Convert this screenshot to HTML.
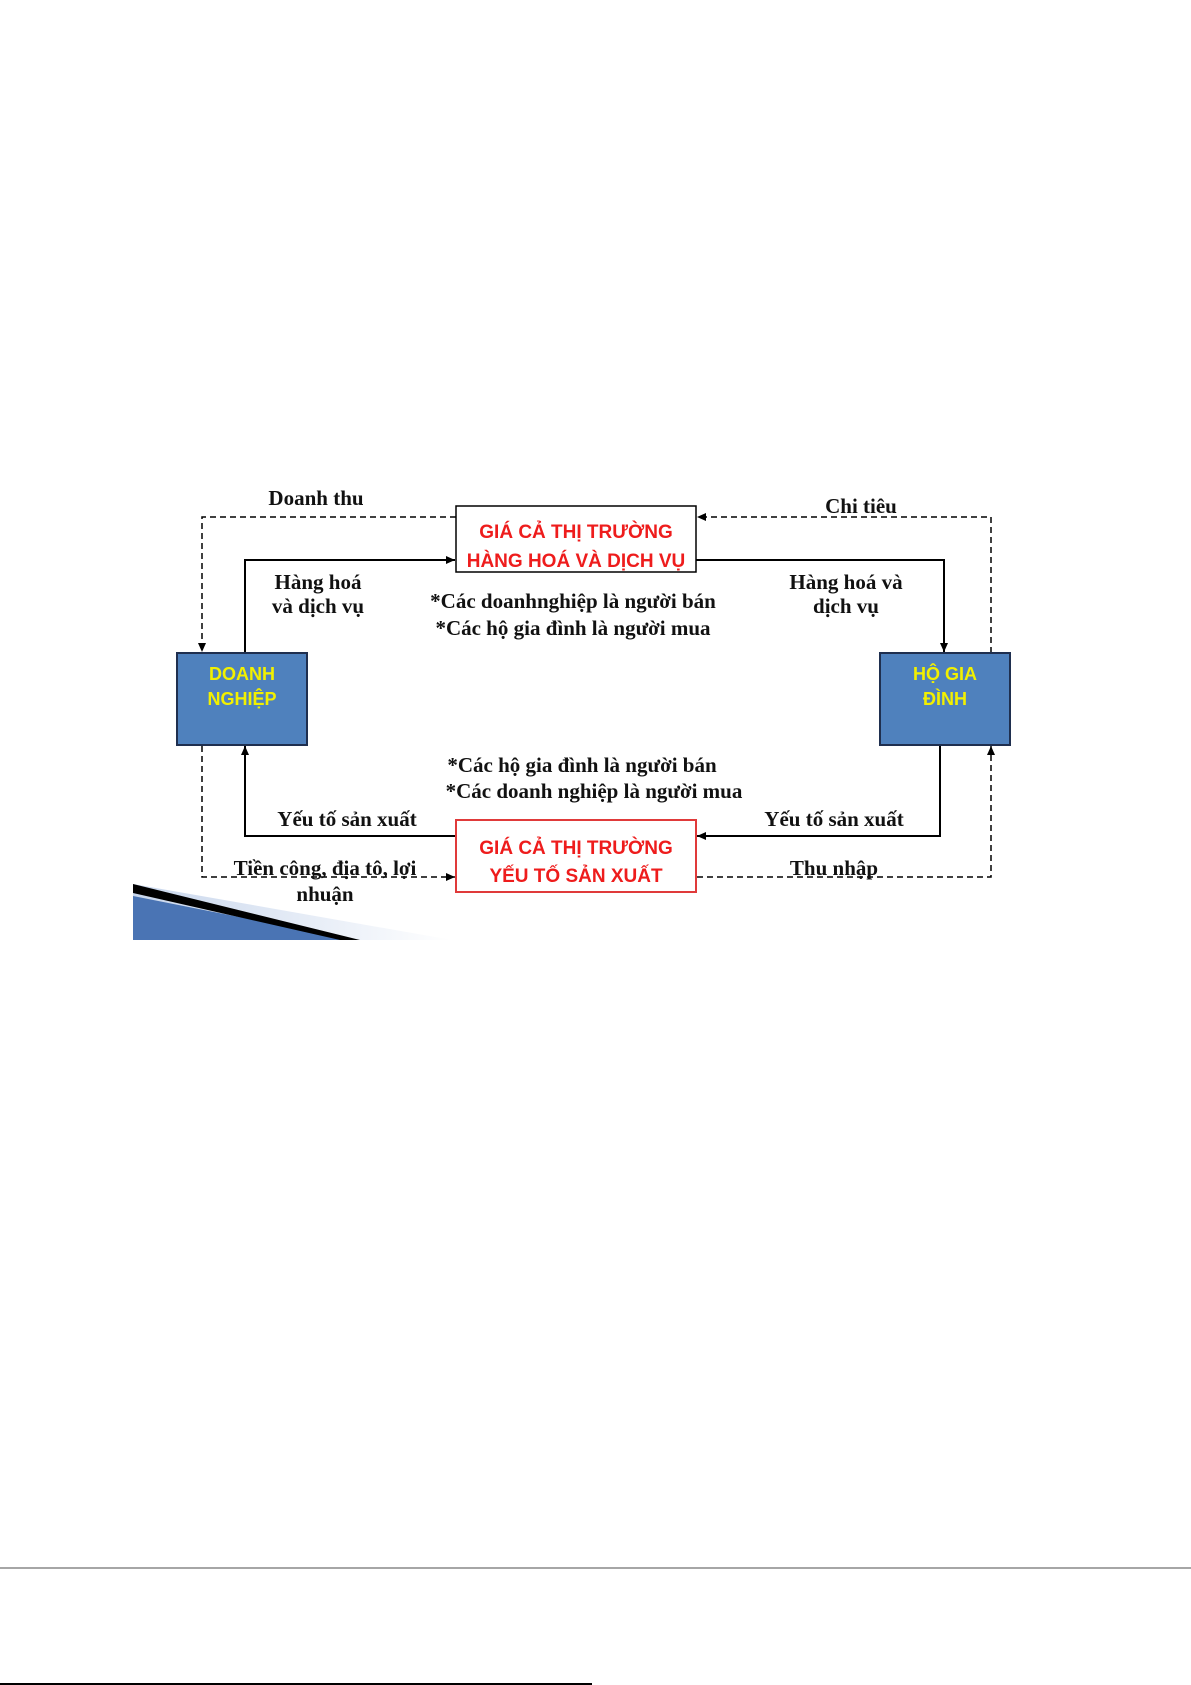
<!DOCTYPE html>
<html><head><meta charset="utf-8"><style>
html,body{margin:0;padding:0;background:#fff;}
svg{display:block;}
.t{font-family:"Liberation Serif",serif;font-weight:bold;font-size:21px;fill:#111;}
.b{font-family:"Liberation Sans",sans-serif;font-weight:bold;font-size:19px;}
.c{font-family:"Liberation Sans",sans-serif;font-weight:bold;font-size:18px;}
</style></head><body>
<svg width="1191" height="1685" viewBox="0 0 1191 1685" xmlns="http://www.w3.org/2000/svg">
<defs>
<marker id="a" markerWidth="10" markerHeight="10" refX="9" refY="5" orient="auto" markerUnits="userSpaceOnUse">
<path d="M0,1 L9,5 L0,9 z" fill="#000"/></marker>
<linearGradient id="lg" x1="0" y1="0" x2="1" y2="0"><stop offset="0" stop-color="#c8d6ec"/><stop offset="1" stop-color="#fff"/></linearGradient>
</defs>
<polygon points="133,884 452,940 133,940" fill="url(#lg)"/>
<polygon points="133,896 355,940 133,940" fill="#4a74b4"/>
<polygon points="133,884 133,893 340,940 360,940" fill="#000"/>
<g fill="none" stroke="#000" stroke-width="1.5" stroke-dasharray="6,4">
<path d="M456,517 H202 V652" marker-end="url(#a)"/>
<path d="M991,653 V517 H697" marker-end="url(#a)"/>
<path d="M202,746 V877 H455" marker-end="url(#a)"/>
<path d="M697,877 H991 V746" marker-end="url(#a)"/>
</g>
<g fill="none" stroke="#000" stroke-width="2">
<path d="M245,653 V560 H455" marker-end="url(#a)"/>
<path d="M696,560 H944 V652" marker-end="url(#a)"/>
<path d="M940,746 V836 H697" marker-end="url(#a)"/>
<path d="M456,836 H245 V746" marker-end="url(#a)"/>
</g>
<rect x="456" y="506" width="240" height="66" fill="#fff" stroke="#000" stroke-width="1.5"/>
<rect x="456" y="820" width="240" height="72" fill="#fff" stroke="#e03a3a" stroke-width="2"/>
<rect x="177" y="653" width="130" height="92" fill="#4f81bd" stroke="#1f2f4f" stroke-width="2"/>
<rect x="880" y="653" width="130" height="92" fill="#4f81bd" stroke="#1f2f4f" stroke-width="2"/>
<g class="b" fill="#ee1c1c" text-anchor="middle">
<text x="576" y="538">GIÁ CẢ THỊ TRƯỜNG</text>
<text x="576" y="567">HÀNG HOÁ VÀ DỊCH VỤ</text>
<text x="576" y="854">GIÁ CẢ THỊ TRƯỜNG</text>
<text x="576" y="882">YẾU TỐ SẢN XUẤT</text>
</g>
<g class="c" fill="#f2f000" text-anchor="middle">
<text x="242" y="680">DOANH</text>
<text x="242" y="705">NGHIỆP</text>
<text x="945" y="680">HỘ GIA</text>
<text x="945" y="705">ĐÌNH</text>
</g>
<g class="t" text-anchor="middle">
<text x="316" y="505">Doanh thu</text>
<text x="861" y="513">Chi tiêu</text>
<text x="318" y="589">Hàng hoá</text>
<text x="318" y="613">và dịch vụ</text>
<text x="846" y="589">Hàng hoá và</text>
<text x="846" y="613">dịch vụ</text>
<text x="573" y="608">*Các doanhnghiệp là người bán</text>
<text x="573" y="635">*Các hộ gia đình là người mua</text>
<text x="582" y="772">*Các hộ gia đình là người bán</text>
<text x="594" y="798">*Các doanh nghiệp là người mua</text>
<text x="347" y="826">Yếu tố sản xuất</text>
<text x="834" y="826">Yếu tố sản xuất</text>
<text x="325" y="875">Tiền công, địa tô, lợi</text>
<text x="325" y="901">nhuận</text>
<text x="834" y="875">Thu nhập</text>
</g>
<line x1="0" y1="1568" x2="1191" y2="1568" stroke="#888" stroke-width="1.5"/>
<line x1="0" y1="1684" x2="592" y2="1684" stroke="#000" stroke-width="2"/>
</svg>
</body></html>
